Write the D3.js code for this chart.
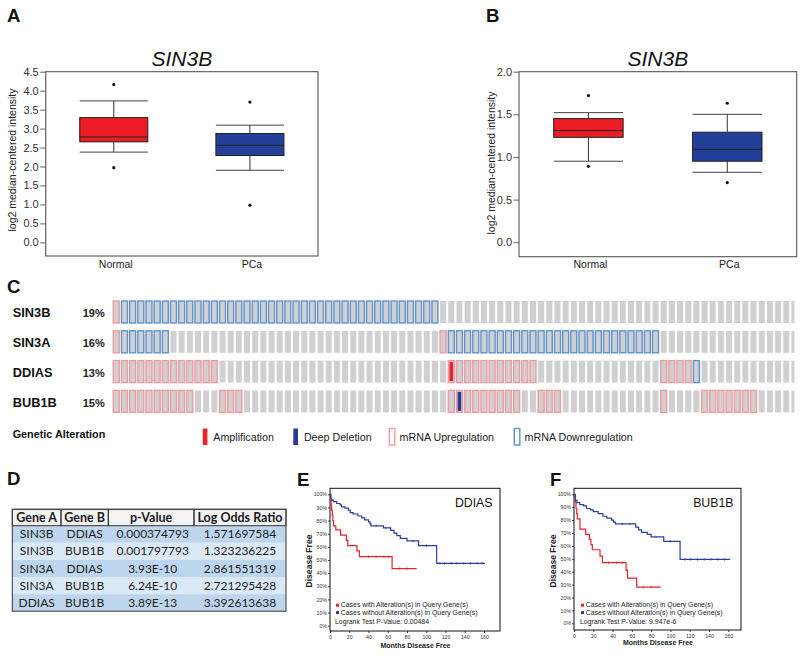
<!DOCTYPE html>
<html>
<head>
<meta charset="utf-8">
<script src="https://cdn.jsdelivr.net/npm/d3@7"></script>
<style>
  body { margin: 0; background: #fff; }
  svg { display: block; }
</style>
</head>
<body>
<svg id="fig"></svg>
<script>
// ---------- data ----------
const FONT = '"Liberation Sans", Arial, Helvetica, sans-serif';
const TFONT = 'Lato, "Open Sans", sans-serif';

// box plots (A, B): [lower whisker, q1, median, q3, upper whisker]
const groups = ['Normal', 'PCa'];
const boxColors = ['#ec1c24', '#22409a'];
const statsA = [[2.38, 2.65, 2.78, 3.29, 3.73], [1.90, 2.29, 2.56, 2.87, 3.09]];
const outliersA = [[4.16, 1.97], [3.70, 0.98]];
const ticksA = [0, 0.5, 1.0, 1.5, 2.0, 2.5, 3.0, 3.5, 4.0, 4.5];
const statsB = [[0.95, 1.23, 1.31, 1.45, 1.52], [0.82, 0.95, 1.09, 1.29, 1.50]];
const outliersB = [[1.72, 0.89], [1.63, 0.70]];
const ticksB = [0, 0.5, 1.0, 1.5, 2.0];

// oncoprint (C): sample index ranges per gene
const genes = ['SIN3B', 'SIN3A', 'DDIAS', 'BUB1B'];
const genePct = ['19%', '16%', '13%', '15%'];
const nSamples = 84;
const mrnaUp = [
  [[0, 0]],
  [[0, 0], [40, 40]],
  [[0, 12], [41, 51], [67, 70]],
  [[0, 9], [13, 15], [41, 49], [52, 54], [67, 67], [72, 78]]
];
const mrnaDown = [
  [[1, 39]],
  [[1, 6], [41, 66]],
  [[71, 71]],
  []
];
const amplif = [[], [], [41], []];
const deepDel = [[], [], [], [42]];
const legendLabels = ['Amplification', 'Deep Deletion', 'mRNA Upregulation', 'mRNA Downregulation'];

// table (D)
const tableHead = ['Gene A', 'Gene B', 'p-Value', 'Log Odds Ratio'];
const tableRows = [
  ['SIN3B', 'DDIAS', '0.000374793', '1.571697584'],
  ['SIN3B', 'BUB1B', '0.001797793', '1.323236225'],
  ['SIN3A', 'DDIAS', '3.93E-10', '2.861551319'],
  ['SIN3A', 'BUB1B', '6.24E-10', '2.721295428'],
  ['DDIAS', 'BUB1B', '3.89E-13', '3.392613638']
];

// Kaplan-Meier (E, F): [month, % disease free] steps
const kmYTicks = [0, 10, 20, 30, 40, 50, 60, 70, 80, 90, 100];
const kmXTicks = [0, 20, 40, 60, 80, 100, 120, 140, 160];
const kmLegend = ['Cases with Alteration(s) in Query Gene(s)', 'Cases without Alteration(s) in Query Gene(s)'];
const eRed = [[0, 100], [0.8, 96], [1.2, 92], [1.6, 88], [2.4, 84], [3, 80], [3.6, 76], [6, 73], [11, 69], [17, 65],
  [18.5, 61], [28, 57], [30.5, 52.5], [64.5, 43.5], [90, 43.5]];
const eBlue = [[0, 100], [0.7, 97], [1.7, 95.5], [3.5, 94.5], [7, 93], [10.5, 92], [12, 90.5], [15.5, 89.5], [19, 88],
  [21, 86], [24, 85], [29, 83.5], [33, 82], [36, 80.5], [40, 79], [41.6, 77.5], [42.5, 76], [55.5, 74.5], [63, 72.5],
  [66.5, 70.5], [69.5, 68.5], [73, 66.5], [80, 64.5], [92, 61], [110.8, 47.5], [161, 47.5]];
const eRedCens = [40, 48, 56, 61, 72, 80];
const eBlueCens = [48, 58, 86, 100, 114, 119, 126, 132, 139, 146, 153, 158];
const fRed = [[0, 100], [1.4, 94], [2.1, 89], [2.8, 85], [3.5, 81], [6.2, 73], [12, 69], [16, 65], [17.5, 61], [19, 57],
  [27, 52], [29.5, 47], [54, 41], [55.5, 35], [65, 28], [90, 28]];
const fBlue = [[0, 100], [1, 95.5], [3, 93.5], [6, 92], [10, 91], [13, 89], [17, 88], [20, 86.5], [25, 85], [30, 83],
  [34, 81.5], [39, 80], [41, 78.5], [43, 77], [64, 74.5], [67, 72.5], [70, 70.5], [76, 69], [80, 67], [93, 63.5],
  [110, 49.5], [162, 49.5]];
const fRedCens = [36, 44, 50, 72, 80];
const fBlueCens = [50, 58, 85, 100, 115, 121, 128, 135, 142, 149, 156];

// ---------- svg ----------
const svg = d3.select('#fig').attr('width', 800).attr('height', 656)
  .style('font-family', FONT);
svg.append('rect').attr('width', 800).attr('height', 656).attr('fill', '#fff');

function panelLabel(txt, x, y) {
  svg.append('text').attr('x', x).attr('y', y).attr('font-size', 18.6).attr('font-weight', 'bold')
    .attr('fill', '#111').text(txt);
}
panelLabel('A', 7, 22);
panelLabel('B', 486, 22);
panelLabel('C', 7, 293);
panelLabel('D', 7, 485);
panelLabel('E', 297, 486);
panelLabel('F', 550, 486);

// ---------- box plots ----------
function boxPanel(o) {
  const g = svg.append('g');
  const y = d3.scaleLinear().domain(o.domain).range([o.bottom, o.top]);
  const x = d3.scaleBand().domain(groups).range([o.left, o.right]).paddingInner(0.5).paddingOuter(0.25);

  const ax = g.append('g').attr('transform', `translate(${o.left},0)`)
    .call(d3.axisLeft(y).tickValues(o.ticks).tickFormat(d3.format('.1f')).tickSize(5.5).tickPadding(1.5));
  ax.select('.domain').remove();
  ax.attr('font-family', FONT).attr('font-size', 11);
  ax.selectAll('line').attr('stroke', '#666');
  ax.selectAll('text').attr('fill', '#333');

  g.append('rect').attr('x', o.left).attr('y', o.top)
    .attr('width', o.right - o.left).attr('height', o.bottom - o.top)
    .attr('fill', 'none').attr('stroke', '#555').attr('stroke-width', 1.1);

  groups.forEach((grp, i) => {
    const s = o.stats[i];
    const x0 = x(grp), bw = x.bandwidth(), cx = x0 + bw / 2;
    // whiskers
    g.append('line').attr('x1', cx).attr('x2', cx).attr('y1', y(s[3])).attr('y2', y(s[4])).attr('stroke', '#333');
    g.append('line').attr('x1', cx).attr('x2', cx).attr('y1', y(s[1])).attr('y2', y(s[0])).attr('stroke', '#333');
    [s[0], s[4]].forEach(v => {
      g.append('line').attr('x1', x0).attr('x2', x0 + bw).attr('y1', y(v)).attr('y2', y(v)).attr('stroke', '#444');
    });
    g.append('rect').attr('x', x0).attr('y', y(s[3])).attr('width', bw).attr('height', y(s[1]) - y(s[3]))
      .attr('fill', boxColors[i]).attr('stroke', '#222').attr('stroke-width', 1);
    g.append('line').attr('x1', x0).attr('x2', x0 + bw).attr('y1', y(s[2])).attr('y2', y(s[2]))
      .attr('stroke', '#222').attr('stroke-width', 1);
    o.outliers[i].forEach(v => {
      g.append('circle').attr('cx', cx).attr('cy', y(v)).attr('r', 1.6).attr('fill', '#111');
    });
    g.append('text').attr('x', cx + 2).attr('y', 268).attr('text-anchor', 'middle')
      .attr('font-size', 10.5).attr('fill', '#222').text(grp);
  });

  g.append('text').attr('x', (o.left + o.right) / 2).attr('y', 66).attr('text-anchor', 'middle')
    .attr('font-size', 21).attr('font-style', 'italic').attr('fill', '#111').text('SIN3B');
  g.append('text').attr('transform', `translate(${o.labelX},${o.labelY}) rotate(-90)`)
    .attr('text-anchor', 'middle').attr('font-size', 10.5).attr('fill', '#222')
    .text('log2 median-centered intensity');
}

boxPanel({ left: 45.7, right: 318, top: 71.7, bottom: 256, domain: [-0.36, 4.5], ticks: ticksA,
  stats: statsA, outliers: outliersA, labelX: 16, labelY: 160 });
boxPanel({ left: 519, right: 796.7, top: 71.7, bottom: 256.7, domain: [-0.17, 2.0], ticks: ticksB,
  stats: statsB, outliers: outliersB, labelX: 495, labelY: 163 });

// ---------- oncoprint ----------
const expand = ranges => ranges.flatMap(([a, b]) => d3.range(a, b + 1));
const xCell = d3.scaleBand().domain(d3.range(nSamples)).range([113.3, 113.3 + 83 * 8.17 + 6])
  .paddingInner(0.266).paddingOuter(0);
const yRow = d3.scaleBand().domain(genes).range([301, 412.4]).paddingInner(0.262);

svg.append('clipPath').attr('id', 'oncoClip').append('rect')
  .attr('x', 100).attr('y', 290).attr('width', 694.5).attr('height', 130);
const onco = svg.append('g').attr('clip-path', 'url(#oncoClip)');
const cw = xCell.bandwidth(), ch = yRow.bandwidth();

genes.forEach((gene, gi) => {
  const ry = yRow(gene);
  onco.selectAll(null).data(d3.range(nSamples)).join('rect')
    .attr('x', d => xCell(d)).attr('y', ry).attr('width', cw).attr('height', ch).attr('fill', '#d0d0d0');
  onco.selectAll(null).data(amplif[gi]).join('rect')
    .attr('x', d => xCell(d) + 1.2).attr('y', ry + 1.5).attr('width', cw - 2.4).attr('height', ch - 3)
    .attr('fill', '#e8232b');
  onco.selectAll(null).data(deepDel[gi]).join('rect')
    .attr('x', d => xCell(d) + 1.2).attr('y', ry + 1.5).attr('width', cw - 2.4).attr('height', ch - 3)
    .attr('fill', '#2a3a94');
  onco.selectAll(null).data(expand(mrnaUp[gi])).join('rect')
    .attr('x', d => xCell(d)).attr('y', ry).attr('width', cw).attr('height', ch)
    .attr('fill', 'none').attr('stroke', '#f29aa0').attr('stroke-width', 1.4);
  onco.selectAll(null).data(expand(mrnaDown[gi])).join('rect')
    .attr('x', d => xCell(d)).attr('y', ry).attr('width', cw).attr('height', ch)
    .attr('fill', 'none').attr('stroke', '#5f93cf').attr('stroke-width', 1.4);

  svg.append('text').attr('x', 12.7).attr('y', ry + ch / 2 + 5.3).attr('font-size', 12.8)
    .attr('font-weight', 'bold').attr('fill', '#111').text(gene);
  svg.append('text').attr('x', 82.7).attr('y', ry + ch / 2 + 5.3).attr('font-size', 11)
    .attr('font-weight', 'bold').attr('fill', '#222').text(genePct[gi]);
});

// legend
svg.append('text').attr('x', 12.7).attr('y', 438.3).attr('font-size', 10.8).attr('font-weight', 'bold')
  .attr('fill', '#111').text('Genetic Alteration');
const legX = [202.7, 293.3, 389.3, 514.3];
legendLabels.forEach((lab, i) => {
  const r = svg.append('rect').attr('x', legX[i]).attr('y', 428.5).attr('height', 16.5);
  if (i === 0) r.attr('width', 4.7).attr('fill', '#e8232b');
  if (i === 1) r.attr('width', 4.7).attr('fill', '#2a3a94');
  if (i === 2) r.attr('width', 5.5).attr('fill', '#fff').attr('stroke', '#f29aa0').attr('stroke-width', 1.4);
  if (i === 3) r.attr('width', 5.5).attr('fill', '#fff').attr('stroke', '#5f93cf').attr('stroke-width', 1.4);
  svg.append('text').attr('x', legX[i] + (i < 2 ? 10.6 : 10.3)).attr('y', 440.5).attr('font-size', 10.7)
    .attr('fill', '#222').text(lab);
});

// ---------- table ----------
const colEdges = [12.3, 61, 108.3, 194, 286];
const tTop = 509.3, headH = 16.4, rowH = 17.1;
const tg = svg.append('g').style('font-family', TFONT);
tg.append('rect').attr('x', colEdges[0]).attr('y', tTop).attr('width', colEdges[4] - colEdges[0])
  .attr('height', headH).attr('fill', '#f3f3f3');
tableRows.forEach((row, ri) => {
  const ry = tTop + headH + ri * rowH;
  tg.append('rect').attr('x', colEdges[0]).attr('y', ry).attr('width', colEdges[4] - colEdges[0])
    .attr('height', rowH).attr('fill', ri % 2 === 0 ? '#bdd6ee' : '#dbe8f6');
  row.forEach((cell, ci) => {
    tg.append('text').attr('x', (colEdges[ci] + colEdges[ci + 1]) / 2 + (ci === 2 ? 1.5 : 0))
      .attr('y', ry + 12.6).attr('text-anchor', 'middle').attr('font-size', 12)
      .attr('fill', '#1e1e1e').text(cell);
  });
});
tableHead.forEach((h, ci) => {
  tg.append('rect').attr('x', colEdges[ci]).attr('y', tTop).attr('width', colEdges[ci + 1] - colEdges[ci])
    .attr('height', headH).attr('fill', 'none').attr('stroke', '#333').attr('stroke-width', 1);
  tg.append('text').attr('x', (colEdges[ci] + colEdges[ci + 1]) / 2).attr('y', tTop + 12.4)
    .attr('text-anchor', 'middle').attr('font-size', 12.5).attr('font-weight', 'bold')
    .attr('fill', '#1a1a1a').text(h);
});
tg.append('rect').attr('x', colEdges[0]).attr('y', tTop).attr('width', colEdges[4] - colEdges[0])
  .attr('height', headH + tableRows.length * rowH).attr('fill', 'none').attr('stroke', '#444').attr('stroke-width', 1.1);

// ---------- Kaplan-Meier ----------
function kmPanel(o) {
  const g = svg.append('g');
  const x = d3.scaleLinear().domain([0, 160]).range([o.left, o.x160]);
  const y = d3.scaleLinear().domain([0, 100]).range([o.y0, o.y100]);

  const ay = g.append('g').attr('transform', `translate(${o.left},0)`)
    .call(d3.axisLeft(y).tickValues(kmYTicks).tickFormat(d => d + '%').tickSize(2).tickPadding(1));
  const ax = g.append('g').attr('transform', `translate(0,${o.bottom})`)
    .call(d3.axisBottom(x).tickValues(kmXTicks).tickSize(2).tickPadding(2));
  [ax, ay].forEach(a => {
    a.select('.domain').remove();
    a.attr('font-family', FONT).attr('font-size', 5.2);
    a.selectAll('line').attr('stroke', '#444');
    a.selectAll('text').attr('fill', '#333');
  });

  g.append('rect').attr('x', o.left).attr('y', o.top).attr('width', o.right - o.left)
    .attr('height', o.bottom - o.top).attr('fill', 'none').attr('stroke', '#111').attr('stroke-width', 1);

  const line = d3.line().x(d => x(d[0])).y(d => y(d[1])).curve(d3.curveStepAfter);
  const stepAt = (steps, t) => steps[d3.bisector(d => d[0]).right(steps, t) - 1][1];
  [[o.red, o.redCens, '#e8232b'], [o.blue, o.blueCens, '#2b3f9e']].forEach(([steps, cens, col]) => {
    g.append('path').datum(steps).attr('d', line).attr('fill', 'none').attr('stroke', col).attr('stroke-width', 1.2);
    g.selectAll(null).data(cens).join('line')
      .attr('x1', d => x(d)).attr('x2', d => x(d))
      .attr('y1', d => y(stepAt(steps, d)) - 1.2).attr('y2', d => y(stepAt(steps, d)) + 1.2)
      .attr('stroke', col).attr('stroke-width', 0.8);
  });

  g.append('text').attr('x', o.right - 7.5).attr('y', 506.7).attr('text-anchor', 'end')
    .attr('font-size', 12.3).attr('fill', '#111').text(o.gene);

  kmLegend.forEach((lab, i) => {
    const ly = 607.3 + i * 7.4;
    g.append('rect').attr('x', o.legX).attr('y', ly - 3.6).attr('width', 3).attr('height', 3)
      .attr('fill', i === 0 ? '#e8232b' : '#2b3f9e');
    g.append('text').attr('x', o.legX + 4.8).attr('y', ly).attr('font-size', 6.9).attr('fill', '#222').text(lab);
  });
  g.append('text').attr('x', o.legX - 1).attr('y', 624).attr('font-size', 6.9).attr('fill', '#222').text(o.logrank);

  g.append('text').attr('x', (o.left + o.right) / 2 + 0.5).attr('y', o.xLabelY).attr('text-anchor', 'middle')
    .attr('font-size', 7).attr('font-weight', 'bold').attr('fill', '#222').text('Months Disease Free');
  g.append('text').attr('transform', `translate(${o.yLabelX},561) rotate(-90)`).attr('text-anchor', 'middle')
    .attr('font-size', 8.6).attr('font-weight', 'bold').attr('fill', '#222').text('Disease Free');
}

kmPanel({ left: 330, right: 500, top: 488.3, bottom: 631, x160: 484, y0: 625.7, y100: 494.3,
  red: eRed, blue: eBlue, redCens: eRedCens, blueCens: eBlueCens, gene: 'DDIAS',
  legX: 336, logrank: 'Logrank Test P-Value: 0.00484', xLabelY: 647.7, yLabelX: 311.5 });
kmPanel({ left: 574, right: 741, top: 488.3, bottom: 630, x160: 728.3, y0: 623.3, y100: 494.3,
  red: fRed, blue: fBlue, redCens: fRedCens, blueCens: fBlueCens, gene: 'BUB1B',
  legX: 581, logrank: 'Logrank Test P-Value: 9.947e-6', xLabelY: 645, yLabelX: 556 });
</script>
</body>
</html>
